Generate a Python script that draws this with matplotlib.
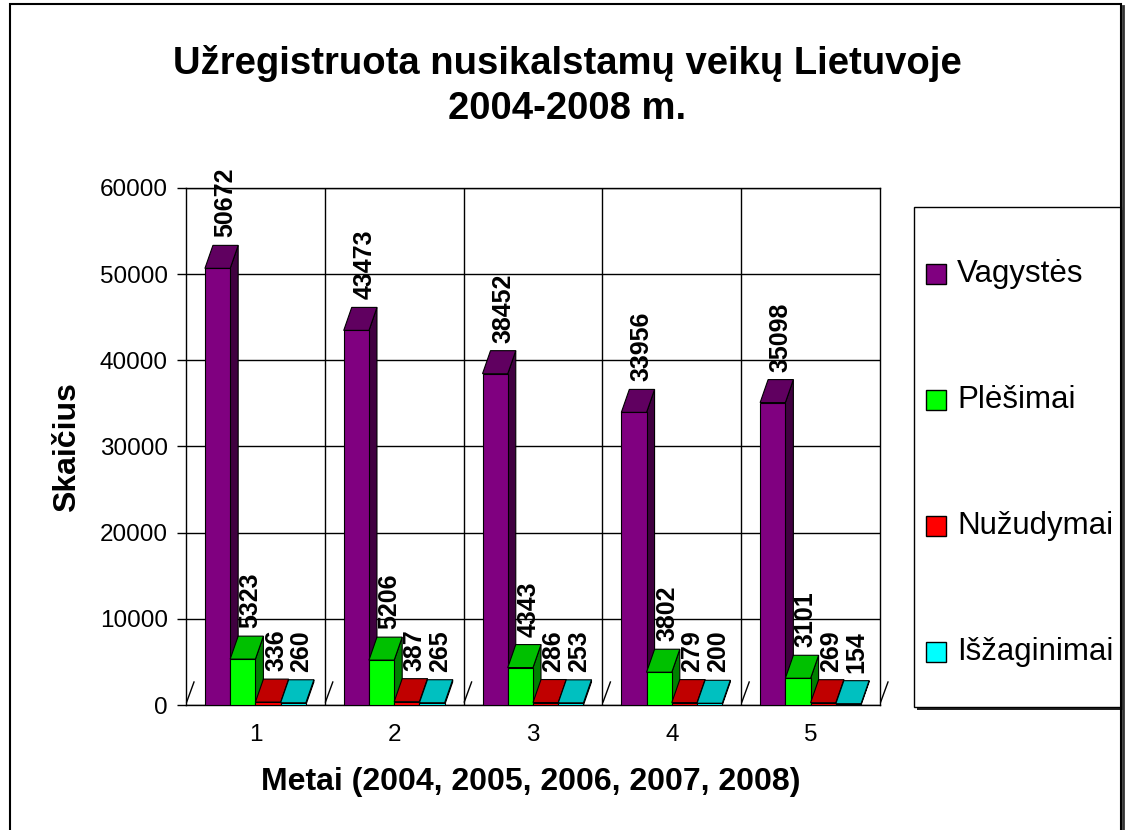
import numpy as np
import matplotlib.pyplot as plt
import matplotlib.transforms as mtransforms
from matplotlib.patches import Polygon, Rectangle
from matplotlib.lines import Line2D

plt.rcParams['font.family'] = ['Liberation Sans', 'DejaVu Sans']

W, H = 1126, 830

# DATA
years = [1, 2, 3, 4, 5]
series = ['Vagystės', 'Plėšimai', 'Nužudymai', 'Išžaginimai']
vagystes = [50672, 43473, 38452, 33956, 35098]
plesimai = [5323, 5206, 4343, 3802, 3101]
nuzudymai = [336, 387, 286, 279, 269]
isz = [260, 265, 253, 200, 154]
values = [vagystes, plesimai, nuzudymai, isz]
yticks = [0, 10000, 20000, 30000, 40000, 50000, 60000]

front_colors = ['#800080', '#00ff00', '#ff0000', '#00ffff']
top_colors = ['#600060', '#00c000', '#c00000', '#00c0c0']
side_colors = ['#400040', '#008000', '#800000', '#008080']

fig = plt.figure(figsize=(W / 100, H / 100), dpi=100)

# pixel helpers (top-left origin)
def fx(x):
    return x / W

def fy(y):
    return 1 - y / H

ax = fig.add_axes([fx(186), fy(705), 694 / W, 517 / H])
ax.set_xlim(0.5, 5.5)
ax.set_ylim(0, 60000)

# fake 3d depth: pixels -> data units
dx = 8 * 5 / 694
dy = 23 * 60000 / 517
bw = 1 / 5.5

for i, vals in enumerate(values):
    for j, v in enumerate(vals):
        x0 = years[j] + (i - 2) * bw
        x1 = x0 + bw
        z = 3 + i
        side = Polygon([(x1, 0), (x1 + dx, dy), (x1 + dx, v + dy), (x1, v)],
                       facecolor=side_colors[i], edgecolor='black', lw=0.8, zorder=z)
        top = Polygon([(x0, v), (x1, v), (x1 + dx, v + dy), (x0 + dx, v + dy)],
                      facecolor=top_colors[i], edgecolor='black', lw=0.8, zorder=z)
        front = Rectangle((x0, 0), bw, v, facecolor=front_colors[i],
                          edgecolor='black', lw=0.8, zorder=z)
        ax.add_patch(side)
        ax.add_patch(top)
        ax.add_patch(front)

# value labels above each bar
lbl = mtransforms.offset_copy(ax.transData, fig=fig, x=8, y=31, units='dots')
for i, vals in enumerate(values):
    for j, v in enumerate(vals):
        xc = years[j] + (i - 1.5) * bw
        ax.text(xc, v, str(v), transform=lbl, rotation=90, ha='center', va='bottom',
                fontsize=18, fontweight='bold', zorder=10)

# grid / walls
ax.set_yticks(yticks)
ax.yaxis.grid(True, color='black', lw=1)
ax.set_axisbelow(True)
for b in [1.5, 2.5, 3.5, 4.5]:
    ax.axvline(b, color='black', lw=1, zorder=1)
for b in [0.5, 1.5, 2.5, 3.5, 4.5, 5.5]:
    ax.plot([b + 0.005, b + dx], [350, 2670], color='black', lw=1, clip_on=False, zorder=1)
for s in ax.spines.values():
    s.set_linewidth(1)

ax.set_xticks(years)
ax.set_xticklabels([str(y) for y in years])
ax.tick_params(axis='x', length=0, pad=14, labelsize=17.5)
ax.tick_params(axis='y', length=6.5, pad=6.5, labelsize=17.5, width=1)

# titles
fig.text(fx(567), fy(86), 'Užregistruota nusikalstamų veikų Lietuvoje\n2004-2008 m.',
         ha='center', va='center', fontsize=27.5, fontweight='bold', linespacing=1.3)
fig.text(fx(531), fy(782), 'Metai (2004, 2005, 2006, 2007, 2008)',
         ha='center', va='center', fontsize=23, fontweight='bold')
fig.text(fx(67), fy(447), 'Skaičius', rotation=90,
         ha='center', va='center', fontsize=23, fontweight='bold')

# legend box with shadow
fig.add_artist(Rectangle((fx(917), fy(710)), 207 / W, 500 / H, transform=fig.transFigure,
                         facecolor='#222222', edgecolor='none'))
fig.add_artist(Rectangle((fx(914), fy(707)), 207 / W, 500 / H, transform=fig.transFigure,
                         facecolor='white', edgecolor='black', lw=1))
for k, name in enumerate(series):
    yc = 274 + k * 126
    fig.add_artist(Rectangle((fx(926), fy(yc + 10)), 20 / W, 20 / H, transform=fig.transFigure,
                             facecolor=front_colors[k], edgecolor='black', lw=1))
    fig.text(fx(957), fy(yc), name, ha='left', va='center', fontsize=22.5)

# outer frame
fig.add_artist(Rectangle((fx(10), -0.05), 1111 / W, 1.05 - 4 / H, transform=fig.transFigure,
                         fill=False, edgecolor='black', lw=1.5))
fig.add_artist(Line2D([fx(1123), fx(1123)], [-0.05, fy(6)], transform=fig.transFigure,
                      color='#333333', lw=2))

fig.savefig('out.png', dpi=100)
